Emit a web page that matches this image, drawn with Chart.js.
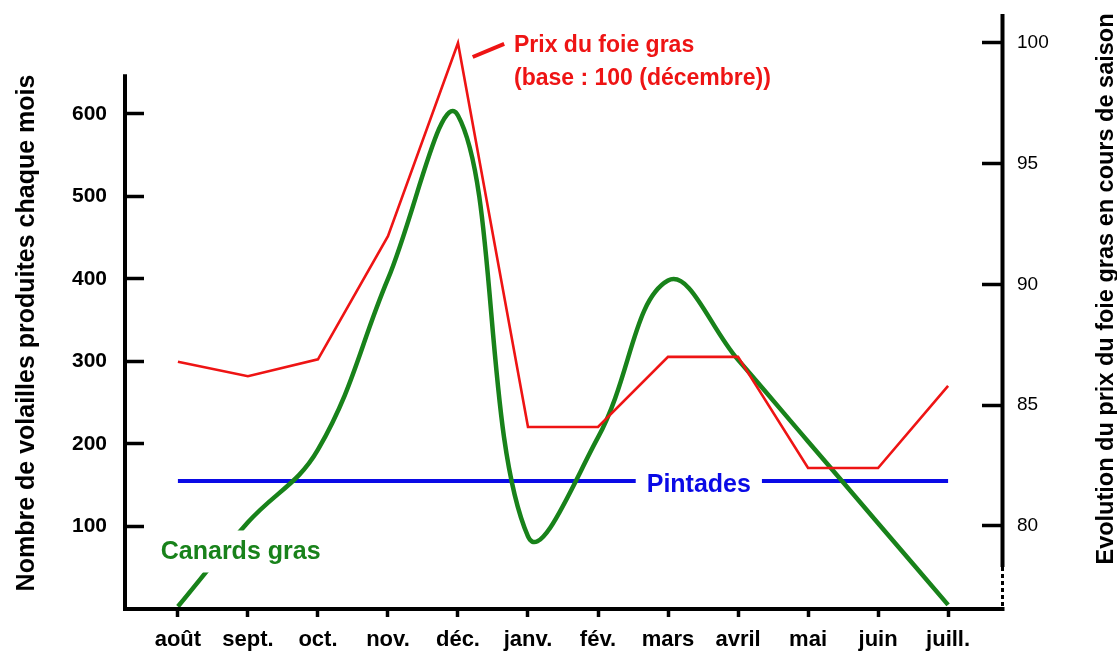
<!DOCTYPE html>
<html>
<head>
<meta charset="utf-8">
<script src="https://cdn.jsdelivr.net/npm/chart.js@4.4.1/dist/chart.umd.min.js"></script>
<style>
  html, body { margin: 0; padding: 0; background: #fff; }
</style>
</head>
<body>
<canvas id="chart" width="1117" height="655"></canvas>
<script>
// data
const months = ['août', 'sept.', 'oct.', 'nov.', 'déc.', 'janv.', 'fév.', 'mars', 'avril', 'mai', 'juin', 'juill.'];
const prixFoieGras = [86.8, 86.2, 86.9, 92.0, 100, 84.1, 84.1, 87.0, 87.0, 82.4, 82.4, 85.8];
const canardsGras = [3, 105, 193, 400, 598, 88, 208, 398, 302, 203, 104, 5];
const pintades = [155, 155, 155, 155, 155, 155, 155, 155, 155, 155, 155, 155];
const leftTicks = [100, 200, 300, 400, 500, 600];
const rightTicks = [80, 85, 90, 95, 100];

const FONT = '"Liberation Sans", Arial, Helvetica, sans-serif';
const RED = '#ee1414';
const GREEN = '#18821a';
const BLUE = '#0a0ae6';

const toPoints = vals => vals.map((v, i) => ({ x: i, y: v }));

// vertical axes: fixed width, no extra top/bottom padding from tick padding
const fitY = width => s => {
  s.width = width;
  s.paddingTop = 0;
  s.paddingBottom = 0;
};

const decorations = {
  id: 'decorations',
  afterDatasetsDraw(chart) {
    const { ctx, chartArea: a } = chart;
    const x = chart.scales.x, yl = chart.scales.y, yr = chart.scales.y1;
    ctx.save();
    ctx.strokeStyle = '#000';
    ctx.lineCap = 'butt';

    // axis lines
    ctx.lineWidth = 4;
    ctx.beginPath();
    ctx.moveTo(a.left + 1, yl.getPixelForValue(648));
    ctx.lineTo(a.left + 1, a.bottom + 2);
    ctx.moveTo(a.left - 1, a.bottom);
    ctx.lineTo(a.right + 2.5, a.bottom);
    ctx.moveTo(a.right + 0.5, a.top);
    ctx.lineTo(a.right + 0.5, yr.getPixelForValue(78.3));
    ctx.stroke();
    ctx.lineWidth = 3;
    ctx.setLineDash([4, 3]);
    ctx.beginPath();
    ctx.moveTo(a.right + 0.5, yr.getPixelForValue(78.3));
    ctx.lineTo(a.right + 0.5, a.bottom);
    ctx.stroke();
    ctx.setLineDash([]);

    // Pintades label
    ctx.font = 'bold 25px ' + FONT;
    ctx.textBaseline = 'alphabetic';
    ctx.textAlign = 'left';
    let cy = yl.getPixelForValue(pintades[0]);
    let w = ctx.measureText('Pintades').width;
    let cx = x.getPixelForValue(7.44);
    ctx.fillStyle = '#fff';
    ctx.fillRect(cx - w / 2 - 11, cy - 13, w + 22, 28);
    ctx.fillStyle = BLUE;
    ctx.fillText('Pintades', cx - w / 2, cy + 11);

    // Canards gras label
    let lx = x.getPixelForValue(-0.245);
    let by = yl.getPixelForValue(60);
    w = ctx.measureText('Canards gras').width;
    ctx.fillStyle = '#fff';
    ctx.fillRect(lx - 4, by - 29, w + 8, 42);
    ctx.fillStyle = GREEN;
    ctx.fillText('Canards gras', lx, by);

    // price label with leader
    ctx.strokeStyle = RED;
    ctx.lineWidth = 4;
    ctx.beginPath();
    ctx.moveTo(x.getPixelForValue(4.21), yr.getPixelForValue(99.42));
    ctx.lineTo(x.getPixelForValue(4.66), yr.getPixelForValue(99.96));
    ctx.stroke();
    ctx.font = 'bold 23px ' + FONT;
    ctx.fillStyle = RED;
    lx = x.getPixelForValue(4.8);
    ctx.fillText('Prix du foie gras', lx, yr.getPixelForValue(99.63));
    ctx.fillText('(base : 100 (décembre))', lx, yr.getPixelForValue(98.26));

    // axis titles
    ctx.fillStyle = '#000';
    ctx.textAlign = 'center';
    ctx.font = 'bold 25px ' + FONT;
    ctx.save();
    ctx.translate(33.5, 333);
    ctx.rotate(-Math.PI / 2);
    ctx.fillText('Nombre de volailles produites chaque mois', 0, 0);
    ctx.restore();
    ctx.font = 'bold 23.5px ' + FONT;
    ctx.save();
    ctx.translate(1113, 289);
    ctx.rotate(-Math.PI / 2);
    ctx.fillText('Evolution du prix du foie gras en cours de saison', 0, 0);
    ctx.restore();

    ctx.restore();
  }
};

new Chart(document.getElementById('chart'), {
  type: 'line',
  data: {
    datasets: [
      {
        label: 'Prix du foie gras',
        data: toPoints(prixFoieGras),
        yAxisID: 'y1',
        borderColor: RED,
        borderWidth: 2.6,
        tension: 0,
        pointRadius: 0
      },
      {
        label: 'Canards gras',
        data: toPoints(canardsGras),
        yAxisID: 'y',
        borderColor: GREEN,
        borderWidth: 4.5,
        tension: 0.4,
        pointRadius: 0
      },
      {
        label: 'Pintades',
        data: toPoints(pintades),
        yAxisID: 'y',
        borderColor: BLUE,
        borderWidth: 4,
        tension: 0,
        pointRadius: 0
      }
    ]
  },
  options: {
    responsive: false,
    animation: false,
    events: [],
    layout: { padding: { top: 14, left: 0, right: 0, bottom: 0 } },
    plugins: {
      legend: { display: false },
      tooltip: { enabled: false }
    },
    scales: {
      x: {
        type: 'linear',
        position: 'bottom',
        min: -0.77,
        max: 11.77,
        afterFit: s => { s.height = 46; s.paddingLeft = 0; s.paddingRight = 0; },
        afterBuildTicks: s => { s.ticks = months.map((m, i) => ({ value: i })); },
        border: { display: false },
        grid: { drawOnChartArea: false, tickLength: 8, tickWidth: 3.5, tickColor: '#000' },
        ticks: {
          autoSkip: false,
          maxRotation: 0,
          padding: 10,
          color: '#000',
          font: { family: FONT, size: 22, weight: 'bold' },
          callback: v => months[v]
        }
      },
      y: {
        position: 'left',
        min: 0,
        max: 721,
        afterFit: fitY(124),
        afterBuildTicks: s => { s.ticks = leftTicks.map(v => ({ value: v })); },
        border: { display: false },
        grid: { drawOnChartArea: false, tickLength: -20, tickWidth: 3.5, tickColor: '#000' },
        ticks: {
          padding: 37,
          color: '#000',
          font: { family: FONT, size: 21, weight: 'bold' }
        }
      },
      y1: {
        position: 'right',
        min: 76.56,
        max: 101.2,
        afterFit: fitY(115),
        afterBuildTicks: s => { s.ticks = rightTicks.map(v => ({ value: v })); },
        border: { display: false },
        grid: { drawOnChartArea: false, tickLength: -20, tickWidth: 3.5, tickColor: '#000' },
        ticks: {
          padding: 35,
          color: '#000',
          font: { family: FONT, size: 19 }
        }
      }
    }
  },
  plugins: [decorations]
});
</script>
</body>
</html>
